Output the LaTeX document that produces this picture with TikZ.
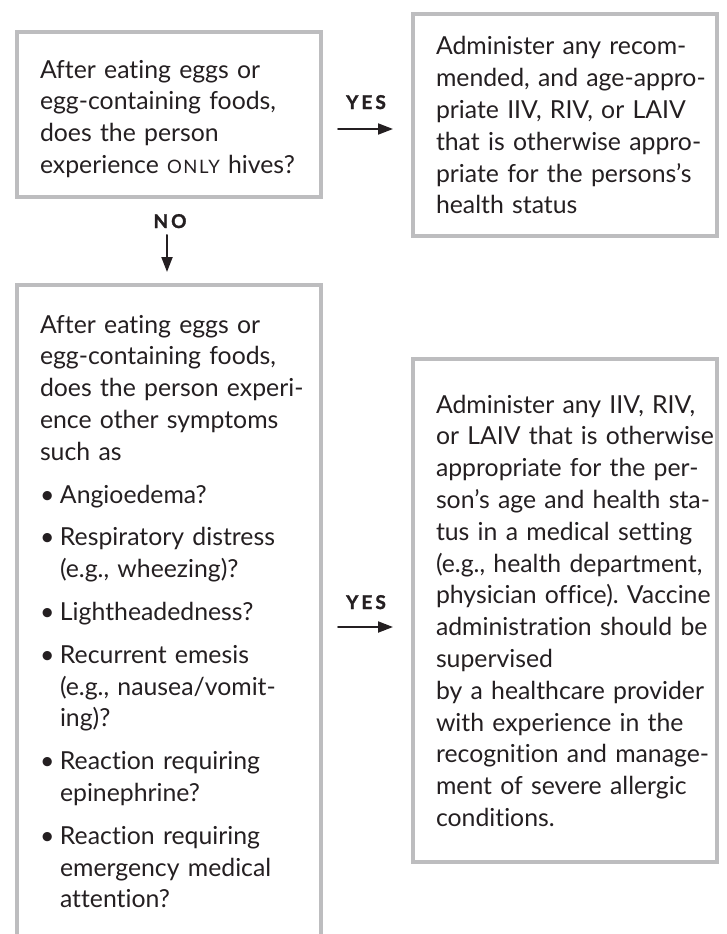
\documentclass[tikz,border=0pt]{standalone}
\usepackage{fontspec}
\setmainfont{Lato}[Ligatures={NoCommon}]
\newfontfamily\yesnofont[LetterSpace=16,BoldFeatures={FakeBold=1.5}]{Lato}
\newfontfamily\scfont[LetterSpace=8]{Lato}
\usepackage{tikz}
\usetikzlibrary{arrows.meta}
\definecolor{bdbdbf}{rgb}{0.74,0.74,0.75}
\definecolor{wwqqww}{rgb}{0.14,0.12,0.13}
\newcommand{\smallcp}[1]{{\scfont\fontsize{18.5}{18.5}\selectfont #1}}
\newcommand{\bul}{\makebox[20pt][l]{\textbullet}}
\newcommand{\hang}{\hspace*{20pt}}
\frenchspacing
\tikzset{
  qbox/.style={draw=bdbdbf, line width=4pt, line join=miter, anchor=north west,
    inner xsep=2pt, inner ysep=0pt, text width=300pt, align=left, text=wwqqww,
    font=\fontsize{24.8}{31.8}\selectfont,
    execute at begin node={\leftskip=21pt\rightskip=-15pt plus 1fil}},
  yesno/.style={anchor=base, text=wwqqww, font=\yesnofont\bfseries\fontsize{19}{19}\selectfont}
}

\begin{document}
\begin{tikzpicture}[line cap=round,line join=round,>={Triangle[length=15pt,width=11pt]},x=1pt,y=-1pt]
\useasboundingbox (0,0) rectangle (726,934);
\clip (0,0) rectangle (726,934);

\node[qbox, text height=46pt, text depth=119pt] (q1) at (15,30) {After eating eggs or\\
egg-containing foods,\\
does the person\\
experience \smallcp{ONLY} hives?};
\node[qbox, text height=41pt, text depth=181pt] (a1) at (411,12) {Administer any recom-\\
mended, and age-appro-\\
priate IIV, RIV, or LAIV\\
that is otherwise appro-\\
priate for the persons’s\\
health status};
\node[qbox, text height=48pt, text depth=629pt] (q2) at (15,283) {After eating eggs or\\
egg-containing foods,\\
does the person experi-\\
ence other symptoms\\
such as\\[11pt]
\bul Angioedema?\\[11pt]
\bul Respiratory distress\\
\hang (e.g., wheezing)?\\[11pt]
\bul Lightheadedness?\\[11pt]
\bul Recurrent emesis\\
\hang (e.g., nausea/vomit-\\
\hang ing)?\\[11pt]
\bul Reaction requiring\\
\hang epinephrine?\\[11pt]
\bul Reaction requiring\\
\hang emergency medical\\
\hang attention?};
\node[qbox, text height=54pt, text depth=449pt] (a2) at (411,357) {Administer any IIV, RIV,\\
or LAIV that is otherwise\\
appropriate for the per-\\
son’s age and health sta-\\
tus in a medical setting\\
(e.g., health department,\\
physician office). Vaccine\\
administration should be\\
supervised\\
by a healthcare provider\\
with experience in the\\
recognition and manage-\\
ment of severe allergic\\
conditions.};

% yes / no arrows
\coordinate (y1s) at (338,129);
\coordinate (y1e) at (393,129);
\coordinate (n1s) at (167,235);
\coordinate (n1e) at (167,272);
\coordinate (y2s) at (338,627);
\coordinate (y2e) at (393,627);
\draw[->,line width=2pt,color=wwqqww] (y1s) -- (y1e);
\draw[->,line width=2pt,color=wwqqww] (n1s) -- (n1e);
\draw[->,line width=2pt,color=wwqqww] (y2s) -- (y2e);
\node[yesno] (yes1) at (366,109) {YES};
\node[yesno] (no1) at (170,228) {NO};
\node[yesno] (yes2) at (366,609) {YES};

\end{tikzpicture}
\end{document}
